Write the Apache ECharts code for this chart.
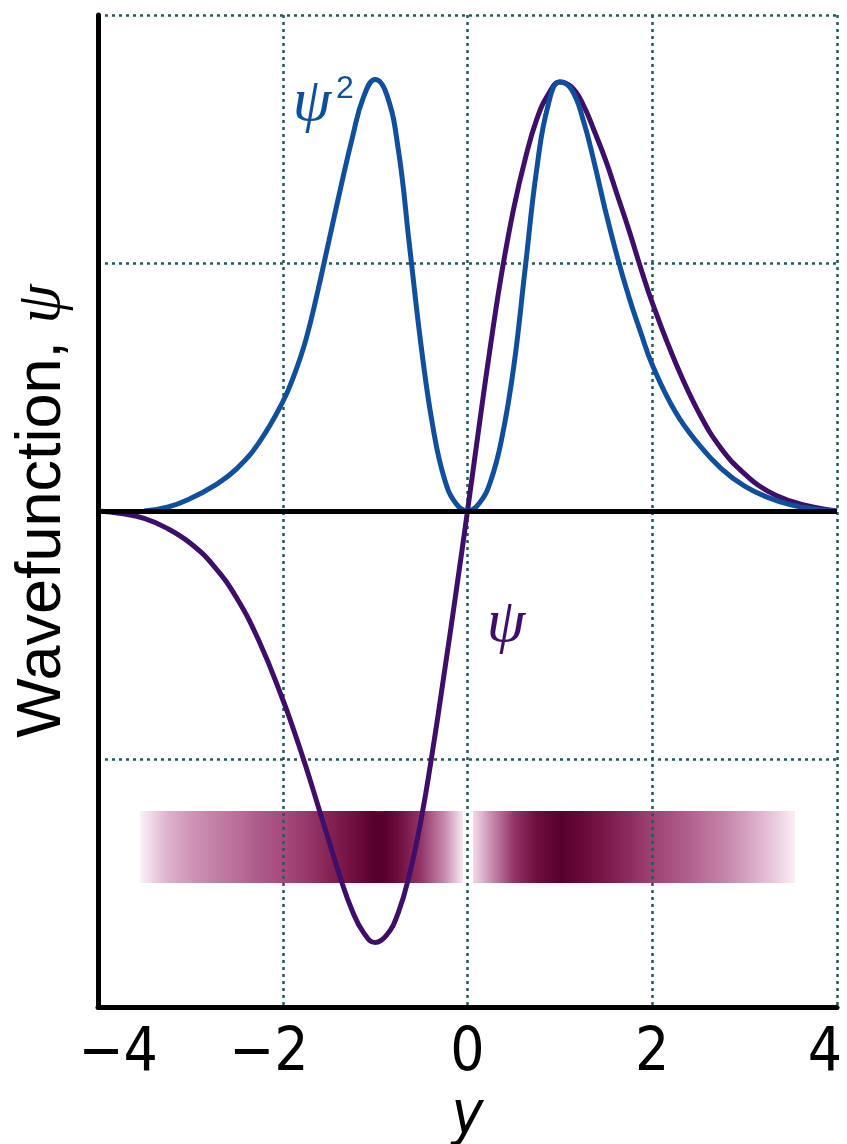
<!DOCTYPE html>
<html><head><meta charset="utf-8">
<script src="https://cdn.jsdelivr.net/npm/echarts@6/dist/echarts.min.js"></script>
<style>html,body{margin:0;padding:0;background:#fff}#c{width:847px;height:1144px}</style>
</head><body><div id="c"></div>
<script>
// ---- data ----
const xTicks = [-4, -2, 0, 2, 4];
const xTickLabels = ['\u22124', '\u22122', '0', '2', '4'];

// wavefunction psi (purple)
const psiX = [-4,-3.75,-3.5,-3.25,-3,-2.75,-2.5,-2.25,-2,-1.875,-1.75,-1.625,-1.5,-1.375,-1.25,-1.125,-1,-0.875,-0.75,-0.625,-0.5,-0.375,-0.25,-0.125,0,0.125,0.25,0.375,0.5,0.625,0.75,0.875,1,1.125,1.25,1.375,1.5,1.625,1.75,1.875,2,2.25,2.5,2.75,3,3.25,3.5,3.75,4];
const psiY = [0,-0.01,-0.03,-0.07,-0.13,-0.22,-0.35,-0.53,-0.76,-0.89,-1.03,-1.18,-1.33,-1.48,-1.61,-1.70,-1.74,-1.71,-1.62,-1.46,-1.24,-0.96,-0.65,-0.33,0,0.34,0.67,0.97,1.22,1.42,1.58,1.68,1.73,1.71,1.64,1.53,1.41,1.27,1.13,0.98,0.84,0.60,0.40,0.25,0.15,0.08,0.04,0.015,0];

// probability density psi^2 (blue)
const psi2X = [-3.5,-3.25,-3,-2.75,-2.5,-2.25,-2,-1.875,-1.75,-1.625,-1.5,-1.375,-1.25,-1.125,-1,-0.875,-0.75,-0.625,-0.5,-0.375,-0.25,-0.125,0,0.125,0.25,0.375,0.5,0.625,0.75,0.875,1,1.125,1.25,1.375,1.5,1.625,1.75,1.875,2,2.25,2.5,2.75,3,3.25,3.5,3.75,4];
const psi2Y = [0,0.015,0.05,0.10,0.17,0.28,0.44,0.55,0.69,0.88,1.09,1.30,1.50,1.67,1.74,1.68,1.46,1.06,0.66,0.34,0.13,0.03,0,0.03,0.12,0.30,0.58,0.98,1.38,1.64,1.73,1.70,1.58,1.40,1.20,1.02,0.86,0.72,0.59,0.40,0.27,0.17,0.10,0.055,0.025,0.008,0];

// density band intensity (0..1), left and right halves
const bandLeftX = [-3.55,-3.25,-3,-2.75,-2.5,-2.25,-2,-1.75,-1.5,-1.25,-1,-0.9,-0.75,-0.5,-0.25,-0.05];
const bandLeftI = [0.02,0.25,0.35,0.42,0.48,0.55,0.60,0.68,0.78,0.88,1.0,1.0,0.90,0.70,0.40,0.05];
const bandRightX = [0.06,0.25,0.5,0.75,1.0,1.25,1.5,1.75,2,2.25,2.5,2.75,3,3.25,3.54];
const bandRightI = [0.10,0.38,0.70,0.90,1.0,0.93,0.83,0.74,0.64,0.57,0.50,0.42,0.32,0.20,0.03];
const BAND_TOP = -1.21, BAND_BOTTOM = -1.50;

// ---- build ----
const zip = (xs, ys) => xs.map((x, i) => [x, ys[i]]);
function segs(xs, is) {
  const out = [];
  for (let i = 0; i < xs.length - 1; i++) out.push([xs[i], xs[i + 1], is[i], is[i + 1]]);
  return out;
}
const bandData = segs(bandLeftX, bandLeftI).concat(segs(bandRightX, bandRightI));
const RAMP = [[0, [255, 246, 251]], [0.3, [215, 165, 195]], [0.6, [165, 75, 125]], [0.85, [120, 20, 70]], [1, [88, 0, 45]]];
function bandCol(t) {
  for (let i = 0; i < RAMP.length - 1; i++) {
    const [t0, c0] = RAMP[i], [t1, c1] = RAMP[i + 1];
    if (t <= t1) {
      const f = (t - t0) / (t1 - t0);
      return 'rgb(' + c0.map((c, k) => Math.round(c + (c1[k] - c) * f)).join(',') + ')';
    }
  }
  return 'rgb(88,0,45)';
}

const BLUE = '#0f4f9b', PURPLE = '#3d0f68', GRID = '#1f5a5c';
const NARROW = "'Liberation Sans Narrow','DejaVu Sans Condensed','Roboto Condensed',sans-serif";
const tickStyle = { fontFamily: NARROW, fontSize: 60, color: '#000' };

const chart = echarts.init(document.getElementById('c'), null, { renderer: 'canvas' });
chart.setOption({
  animation: false,
  backgroundColor: '#fff',
  grid: { left: 98, right: 10, top: 15, bottom: 137, containLabel: false, outerBoundsMode: 'none' },
  xAxis: {
    type: 'value', min: -4, max: 4, interval: 2, z: 1,
    name: 'y', nameLocation: 'middle', nameGap: 48,
    nameTextStyle: { fontFamily: NARROW, fontStyle: 'italic', fontSize: 60, color: '#000' },
    axisLine: { onZero: false, lineStyle: { color: '#000', width: 5 } },
    axisTick: { show: false },
    axisLabel: {
      margin: 17,
      formatter: v => {
        const i = xTicks.indexOf(v);
        return '{t' + i + '|' + xTickLabels[i] + '}';
      },
      rich: {
        t0: Object.assign({ padding: [0, 0, 0, 40] }, tickStyle),
        t1: Object.assign({ padding: [0, 28, 0, 0] }, tickStyle),
        t2: Object.assign({}, tickStyle),
        t3: Object.assign({}, tickStyle),
        t4: Object.assign({ padding: [0, 24, 0, 0] }, tickStyle)
      }
    },
    splitLine: { show: true, lineStyle: { color: GRID, width: 2.5, type: [3, 4] } }
  },
  yAxis: {
    type: 'value', min: -2, max: 2, interval: 1, z: 1,
    name: 'Wavefunction, {p|\u03c8}', nameLocation: 'middle', nameGap: 24, nameRotate: 90,
    nameTextStyle: {
      fontFamily: "'Liberation Sans',Arial,sans-serif", fontSize: 63, color: '#000',
      rich: { p: { fontFamily: "'Liberation Serif','DejaVu Serif',serif", fontStyle: 'italic', fontSize: 63, color: '#000' } }
    },
    axisLine: { onZero: false, lineStyle: { color: '#000', width: 5 } },
    axisTick: { show: false },
    axisLabel: { show: false },
    splitLine: { show: true, lineStyle: { color: GRID, width: 2.5, type: [3, 4] } }
  },
  series: [
    {
      type: 'custom', z: 0, silent: true,
      data: bandData,
      encode: { x: [0, 1] },
      renderItem: (params, api) => {
        const x0 = api.value(0), x1 = api.value(1), a0 = api.value(2), a1 = api.value(3);
        const p0 = api.coord([x0, BAND_TOP]), p1 = api.coord([x1, BAND_BOTTOM]);
        const l = Math.round(p0[0]), r = Math.round(p1[0]);
        return {
          type: 'rect',
          shape: { x: l, y: p0[1], width: r - l, height: p1[1] - p0[1] },
          style: {
            fill: new echarts.graphic.LinearGradient(0, 0, 1, 0, [
              { offset: 0, color: bandCol(a0) }, { offset: 1, color: bandCol(a1) }
            ])
          }
        };
      }
    },
    {
      name: 'psi', type: 'line', z: 3, data: zip(psiX, psiY), smooth: 0.45,
      showSymbol: false, symbol: 'none',
      lineStyle: { color: PURPLE, width: 5 },
      markLine: {
        silent: true, symbol: 'none', label: { show: false },
        lineStyle: { color: '#000', width: 5, type: 'solid' },
        data: [{ yAxis: 0 }]
      }
    },
    {
      name: 'psi2', type: 'line', z: 4, data: zip(psi2X, psi2Y), smooth: 0.45,
      showSymbol: false, symbol: 'none',
      lineStyle: { color: BLUE, width: 5 }
    }
  ],
  graphic: [
    { type: 'text', x: 312, y: 104, z: 10, style: { text: '\u03c8', fill: BLUE, font: "italic 62px 'Liberation Serif','DejaVu Serif',serif", align: 'center', verticalAlign: 'middle' } },
    { type: 'text', x: 345, y: 89, z: 10, style: { text: '2', fill: BLUE, font: "32px 'Liberation Sans',Arial,sans-serif", align: 'center', verticalAlign: 'middle' } },
    { type: 'text', x: 506, y: 625, z: 10, style: { text: '\u03c8', fill: PURPLE, font: "italic 62px 'Liberation Serif','DejaVu Serif',serif", align: 'center', verticalAlign: 'middle' } }
  ]
});
</script></body></html>
